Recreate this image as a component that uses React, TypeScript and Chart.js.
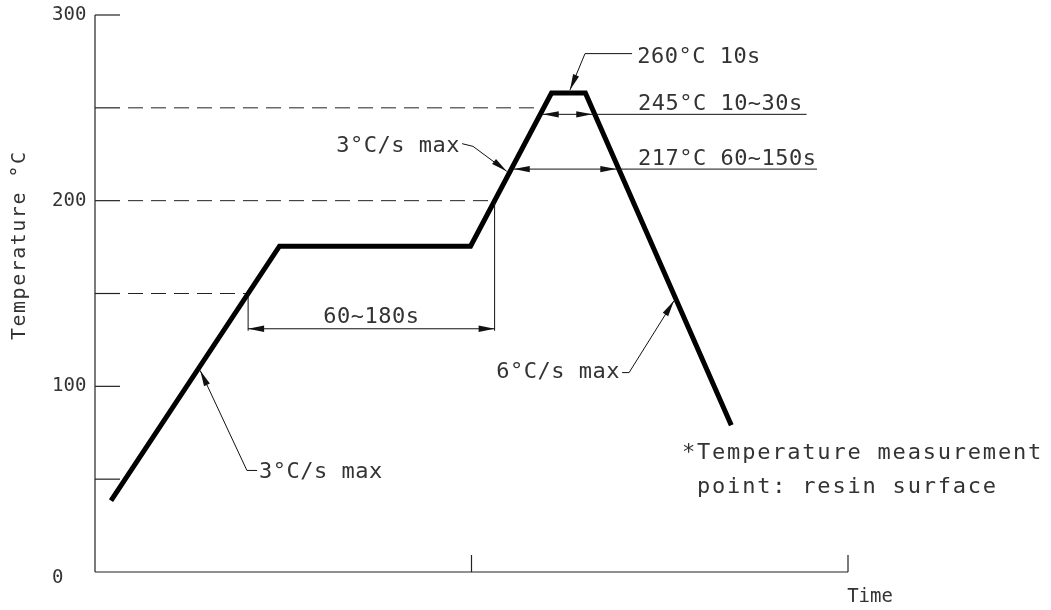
import React, { useEffect, useRef } from "react";
import { Chart, registerables } from "chart.js";

Chart.register(...registerables);

// ---- data ----
const profileTime = [8.5, 98, 199.5, 242.5, 260.5, 338];
const profileTemp = [38.5, 175.5, 175.5, 258, 258, 79];

const yTickValues = [50, 100, 150, 200, 250, 300];
const yLabelValues = [0, 100, 200, 300];
const yLabelTexts = ["0", "100", "200", "300"];
const xTickValues = [200, 400];
const dashedLevels = [150, 200, 250];

const soakLevels = [150, 200];
const soakDimTemp = 131;
const soakLabel = "60~180s";
const peakZoneLevels = [246.5, 217];
const peakZoneLabels = ["245°C 10~30s", "217°C 60~150s"];
const peakLabel = "260°C 10s";
const rampUpLabel = "3°C/s max";
const rampDownLabel = "6°C/s max";
const rampUpTipTemps = [110, 214.8];
const rampDownTipTemp = 147.4;
const peakTipTime = 252.3;
const noteLines = ["*Temperature measurement", " point: resin surface"];
const xTitle = "Time";
const yTitle = "Temperature °C";

const FONT = '"DejaVu Sans Mono", monospace';

function crossTime(T: number, seg: number) {
  const t0 = profileTime[seg], t1 = profileTime[seg + 1];
  const v0 = profileTemp[seg], v1 = profileTemp[seg + 1];
  return t0 + ((T - v0) / (v1 - v0)) * (t1 - t0);
}

function arrowHead(ctx: CanvasRenderingContext2D, tipX: number, tipY: number, fromX: number, fromY: number, len = 16, half = 3.2) {
  const dx = tipX - fromX, dy = tipY - fromY;
  const d = Math.hypot(dx, dy) || 1;
  const ux = dx / d, uy = dy / d;
  const nx = -uy, ny = ux;
  ctx.beginPath();
  ctx.moveTo(tipX, tipY);
  ctx.lineTo(tipX - ux * len + nx * half, tipY - uy * len + ny * half);
  ctx.lineTo(tipX - ux * len - nx * half, tipY - uy * len - ny * half);
  ctx.closePath();
  ctx.fill();
}

const drawingPlugin = {
  id: "profileDrawing",
  beforeDatasetsDraw(chart: any) {
    const ctx: CanvasRenderingContext2D = chart.ctx;
    const xs = chart.scales.x, ys = chart.scales.y;
    const X = (t: number) => xs.getPixelForValue(t);
    const Y = (v: number) => ys.getPixelForValue(v);
    const line = (a: number, b: number, c: number, d: number) => {
      ctx.beginPath(); ctx.moveTo(a, b); ctx.lineTo(c, d); ctx.stroke();
    };
    ctx.save();
    ctx.strokeStyle = "#222";
    ctx.lineWidth = 1.2;
    line(X(0), Y(300), X(0), Y(0));
    line(X(0), Y(0), X(400), Y(0));
    yTickValues.forEach((v) => line(X(0), Y(v), X(0) + 25, Y(v)));
    xTickValues.forEach((t) => line(X(t), Y(0), X(t), Y(0) - 17));
    ctx.lineWidth = 1;
    ctx.setLineDash([15, 8]);
    const segs = [0, 2, 2];
    dashedLevels.forEach((v, i) => {
      line(X(0) + 33, Y(v), X(crossTime(v, segs[i])), Y(v));
    });
    ctx.setLineDash([]);
    ctx.restore();
  },
  afterDatasetsDraw(chart: any) {
    const ctx: CanvasRenderingContext2D = chart.ctx;
    const xs = chart.scales.x, ys = chart.scales.y;
    const X = (t: number) => xs.getPixelForValue(t);
    const Y = (v: number) => ys.getPixelForValue(v);
    const line = (a: number, b: number, c: number, d: number) => {
      ctx.beginPath(); ctx.moveTo(a, b); ctx.lineTo(c, d); ctx.stroke();
    };
    ctx.save();
    ctx.strokeStyle = "#111";
    ctx.fillStyle = "#111";
    ctx.lineWidth = 1;

    // --- 60~180s dimension ---
    const sx0 = X(crossTime(soakLevels[0], 0));
    const sx1 = X(crossTime(soakLevels[1], 2));
    const dy = Y(soakDimTemp);
    line(sx0, Y(soakLevels[0]), sx0, dy + 2);
    line(sx1, Y(soakLevels[1]), sx1, dy + 2);
    line(sx0, dy, sx1, dy);
    arrowHead(ctx, sx0, dy, sx0 + 20, dy);
    arrowHead(ctx, sx1, dy, sx1 - 20, dy);

    // --- peak zone dimensions ---
    const rightEnds = [378, 383.5];
    peakZoneLevels.forEach((v, i) => {
      const l = X(crossTime(v, 2)) + 2.5;
      const r = X(crossTime(v, 4)) - 2.5;
      const yy = Y(v);
      line(l, yy, X(rightEnds[i]), yy);
      arrowHead(ctx, l, yy, l + 20, yy);
      arrowHead(ctx, r, yy, r - 20, yy);
    });

    // --- 260 leader ---
    const ptx = X(peakTipTime), pty = Y(profileTemp[3]) - 3;
    const elx = X(260.3), ely = Y(279.2);
    line(X(285.3), ely, elx, ely);
    line(elx, ely, ptx, pty);
    arrowHead(ctx, ptx, pty, elx, ely);

    // --- upper 3°C/s leader ---
    {
      const tx = X(crossTime(rampUpTipTemps[1], 2)), ty = Y(rampUpTipTemps[1]);
      const ax = X(195), ay = Y(230.7), bx = X(200.8), by = Y(229.8);
      const dd = Math.hypot(bx - tx, by - ty);
      const ttx = tx + ((bx - tx) / dd) * 3, tty = ty + ((by - ty) / dd) * 3;
      ctx.beginPath(); ctx.moveTo(ax, ay); ctx.lineTo(bx, by + 1); ctx.lineTo(ttx, tty); ctx.stroke();
      arrowHead(ctx, ttx, tty, bx, by);
    }
    // --- lower 3°C/s leader ---
    {
      const tx = X(crossTime(rampUpTipTemps[0], 0)), ty = Y(rampUpTipTemps[0]);
      const bx = X(80.7), by = Y(54.7), cx = X(86.1);
      const dd = Math.hypot(bx - tx, by - ty);
      const ttx = tx + ((bx - tx) / dd) * 3, tty = ty + ((by - ty) / dd) * 3;
      ctx.beginPath(); ctx.moveTo(cx, by); ctx.lineTo(bx, by); ctx.lineTo(ttx, tty); ctx.stroke();
      arrowHead(ctx, ttx, tty, bx, by);
    }
    // --- 6°C/s leader ---
    {
      const tx = X(crossTime(rampDownTipTemp, 4)), ty = Y(rampDownTipTemp);
      const ax = X(280), bx = X(283.7), by = Y(107.4);
      const dd = Math.hypot(bx - tx, by - ty);
      const ttx = tx + ((bx - tx) / dd) * 3, tty = ty + ((by - ty) / dd) * 3;
      ctx.beginPath(); ctx.moveTo(ax, by); ctx.lineTo(bx, by); ctx.lineTo(ttx, tty); ctx.stroke();
      arrowHead(ctx, ttx, tty, bx, by);
    }

    // --- texts ---
    ctx.fillStyle = "#333";
    ctx.textBaseline = "alphabetic";
    (ctx as any).letterSpacing = "0.5px";
    ctx.font = `22px ${FONT}`;
    ctx.textAlign = "center";
    ctx.fillText(soakLabel, (sx0 + sx1) / 2, dy - 6);
    ctx.textAlign = "left";
    peakZoneLabels.forEach((s, i) => {
      ctx.fillText(s, X(288.4), Y(peakZoneLevels[i]) - 4);
    });
    ctx.fillText(peakLabel, X(288), Y(274.4));
    ctx.textAlign = "right";
    ctx.fillText(rampUpLabel, X(193.9), Y(226.4));
    ctx.fillText(rampDownLabel, X(278.9), Y(104.7));
    ctx.textAlign = "left";
    ctx.fillText(rampUpLabel, X(87.1), Y(50.4));
    (ctx as any).letterSpacing = "1.8px";
    ctx.fillText(noteLines[0], X(311.8), Y(61.1));
    ctx.fillText(noteLines[1], X(311.8), Y(42.3));

    // axis labels
    (ctx as any).letterSpacing = "0px";
    ctx.font = `19px ${FONT}`;
    ctx.textBaseline = "middle";
    ctx.textAlign = "left";
    yLabelValues.forEach((v, i) => {
      ctx.fillText(yLabelTexts[i], 52, Y(v) + (v === 0 ? 6 : 0));
    });
    ctx.font = `19px ${FONT}`;
    ctx.textAlign = "center";
    ctx.fillText(xTitle, X(411.7), Y(0) + 25);
    ctx.save();
    ctx.translate(20, Y(176));
    ctx.rotate(-Math.PI / 2);
    (ctx as any).letterSpacing = "1.5px";
    ctx.font = `20px ${FONT}`;
    ctx.fillText(yTitle, 0, 0);
    ctx.restore();

    ctx.restore();
  },
};

export default function App() {
  const ref = useRef<HTMLCanvasElement | null>(null);
  useEffect(() => {
    if (!ref.current) return;
    const chart = new Chart(ref.current, {
      type: "line",
      data: {
        datasets: [
          {
            data: profileTime.map((t, i) => ({ x: t, y: profileTemp[i] })),
            borderColor: "#000",
            borderWidth: 5,
            pointRadius: 0,
            tension: 0,
            borderJoinStyle: "miter",
            borderCapStyle: "butt",
            fill: false,
          },
        ],
      },
      options: {
        animation: false,
        responsive: false,
        devicePixelRatio: 1,
        layout: { padding: { left: 95, right: 203, top: 15, bottom: 38 } },
        scales: {
          x: { type: "linear", min: 0, max: 400, display: false },
          y: { type: "linear", min: 0, max: 300, display: false },
        },
        plugins: { legend: { display: false }, tooltip: { enabled: false }, title: { display: false } },
      },
      plugins: [drawingPlugin],
    } as any);
    return () => chart.destroy();
  }, []);
  return (
    <div style={{ position: "fixed", left: 0, top: 0, width: 1051, height: 610, background: "#fff" }}>
      <canvas ref={ref} width={1051} height={610} style={{ width: 1051, height: 610 }} />
    </div>
  );
}
